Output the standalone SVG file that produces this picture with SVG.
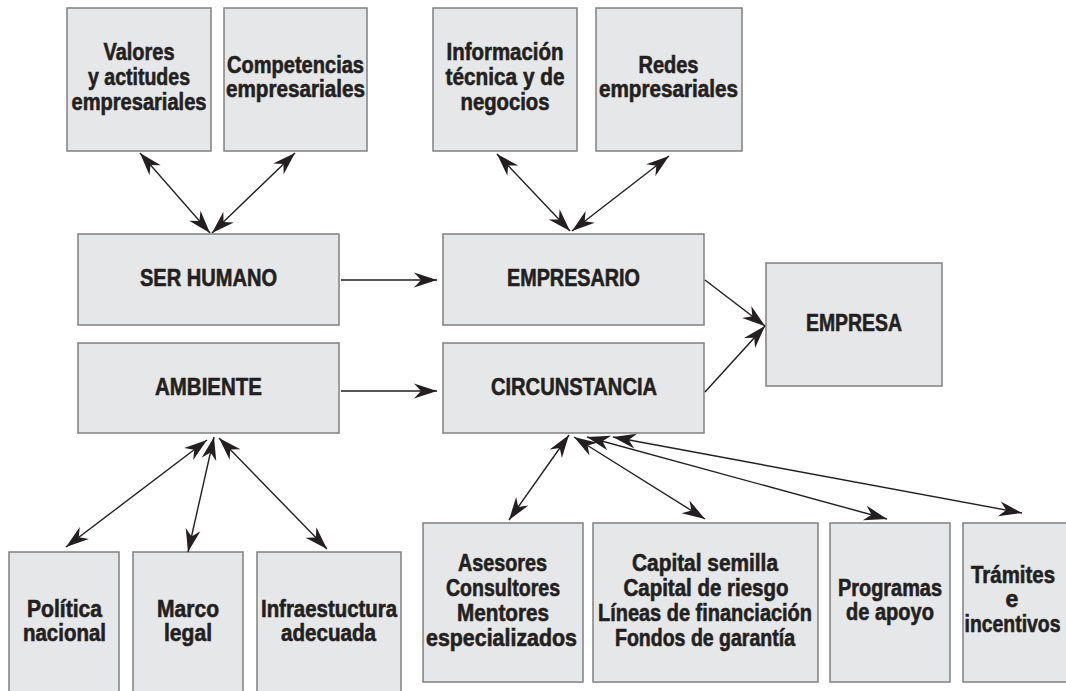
<svg xmlns="http://www.w3.org/2000/svg" width="1066" height="691" viewBox="0 0 1066 691">
<style>
.box{fill:#e6e7e8;stroke:#808080;stroke-width:1.5}
.t{font-family:"Liberation Sans",Arial,sans-serif;font-weight:bold;font-size:23px;fill:#231f20;stroke:#231f20;stroke-width:0.6;text-anchor:middle}
.m{font-size:24.5px}
.c{fill:none;stroke:#231f20;stroke-width:1.4}
</style>
<defs>
<marker id="ah" viewBox="-24 -9 24 18" refX="0" refY="0" markerWidth="24" markerHeight="18" markerUnits="userSpaceOnUse" orient="auto-start-reverse">
<path d="M0,0 L-23,-7.5 L-16,0 L-23,7.5 Z" fill="#231f20"/>
</marker>
</defs>
<rect width="1066" height="691" fill="#ffffff"/>

<g id="valores"><rect class="box" x="67" y="8" width="144" height="143"/>
<text class="t" x="139" y="60" textLength="71" lengthAdjust="spacingAndGlyphs">Valores</text>
<text class="t" x="139" y="85" textLength="102" lengthAdjust="spacingAndGlyphs">y actitudes</text>
<text class="t" x="139" y="110" textLength="135" lengthAdjust="spacingAndGlyphs">empresariales</text></g>

<g id="competencias"><rect class="box" x="224" y="8" width="143" height="143"/>
<text class="t" x="295.5" y="73" textLength="137" lengthAdjust="spacingAndGlyphs">Competencias</text>
<text class="t" x="295.5" y="97" textLength="139" lengthAdjust="spacingAndGlyphs">empresariales</text></g>

<g id="informacion"><rect class="box" x="433" y="8" width="144" height="143"/>
<text class="t" x="505" y="60" textLength="117" lengthAdjust="spacingAndGlyphs">Información</text>
<text class="t" x="505" y="85" textLength="119" lengthAdjust="spacingAndGlyphs">técnica y de</text>
<text class="t" x="505" y="110" textLength="89" lengthAdjust="spacingAndGlyphs">negocios</text></g>

<g id="redes"><rect class="box" x="596" y="8" width="146" height="143"/>
<text class="t" x="668.5" y="73" textLength="60" lengthAdjust="spacingAndGlyphs">Redes</text>
<text class="t" x="668.5" y="97" textLength="139" lengthAdjust="spacingAndGlyphs">empresariales</text></g>

<g id="ser-humano"><rect class="box" x="78" y="234" width="261" height="91"/>
<text class="t m" x="208.5" y="286" textLength="137" lengthAdjust="spacingAndGlyphs">SER HUMANO</text></g>

<g id="ambiente"><rect class="box" x="78" y="343" width="261" height="90"/>
<text class="t m" x="208.5" y="395" textLength="107" lengthAdjust="spacingAndGlyphs">AMBIENTE</text></g>

<g id="empresario"><rect class="box" x="443" y="234" width="261" height="91"/>
<text class="t m" x="573.5" y="286" textLength="133" lengthAdjust="spacingAndGlyphs">EMPRESARIO</text></g>

<g id="circunstancia"><rect class="box" x="443" y="343" width="261" height="90"/>
<text class="t m" x="574" y="395" textLength="166" lengthAdjust="spacingAndGlyphs">CIRCUNSTANCIA</text></g>

<g id="empresa"><rect class="box" x="766" y="263" width="176" height="123"/>
<text class="t m" x="854" y="331" textLength="96" lengthAdjust="spacingAndGlyphs">EMPRESA</text></g>

<g id="politica"><rect class="box" x="9" y="552" width="110" height="150"/>
<text class="t" x="64.5" y="617" textLength="75" lengthAdjust="spacingAndGlyphs">Política</text>
<text class="t" x="64.5" y="641" textLength="83" lengthAdjust="spacingAndGlyphs">nacional</text></g>

<g id="marco"><rect class="box" x="133" y="552" width="110" height="150"/>
<text class="t" x="188" y="617" textLength="62" lengthAdjust="spacingAndGlyphs">Marco</text>
<text class="t" x="188" y="641" textLength="48" lengthAdjust="spacingAndGlyphs">legal</text></g>

<g id="infraestructura"><rect class="box" x="257" y="552" width="144" height="150"/>
<text class="t" x="329" y="617" textLength="136" lengthAdjust="spacingAndGlyphs">Infraestuctura</text>
<text class="t" x="328.5" y="641" textLength="95" lengthAdjust="spacingAndGlyphs">adecuada</text></g>

<g id="asesores"><rect class="box" x="423" y="523" width="160" height="159"/>
<text class="t" x="502.5" y="571" textLength="89" lengthAdjust="spacingAndGlyphs">Asesores</text>
<text class="t" x="503" y="596" textLength="114" lengthAdjust="spacingAndGlyphs">Consultores</text>
<text class="t" x="503" y="621" textLength="92" lengthAdjust="spacingAndGlyphs">Mentores</text>
<text class="t" x="501.5" y="646" textLength="151" lengthAdjust="spacingAndGlyphs">especializados</text></g>

<g id="capital"><rect class="box" x="593" y="523" width="225" height="159"/>
<text class="t" x="705" y="571" textLength="146" lengthAdjust="spacingAndGlyphs">Capital semilla</text>
<text class="t" x="706" y="596" textLength="165" lengthAdjust="spacingAndGlyphs">Capital de riesgo</text>
<text class="t" x="705" y="621" textLength="214" lengthAdjust="spacingAndGlyphs">Líneas de financiación</text>
<text class="t" x="705" y="646" textLength="180" lengthAdjust="spacingAndGlyphs">Fondos de garantía</text></g>

<g id="programas"><rect class="box" x="830" y="523" width="120" height="159"/>
<text class="t" x="890" y="596" textLength="104" lengthAdjust="spacingAndGlyphs">Programas</text>
<text class="t" x="890" y="620" textLength="88" lengthAdjust="spacingAndGlyphs">de apoyo</text></g>

<g id="tramites"><rect class="box" x="963" y="523" width="120" height="159"/>
<text class="t" x="1013" y="583" textLength="84" lengthAdjust="spacingAndGlyphs">Trámites</text>
<text class="t" x="1012" y="607">e</text>
<text class="t" x="1012.5" y="632" textLength="96" lengthAdjust="spacingAndGlyphs">incentivos</text></g>

<g id="connectors">
<line class="c" x1="140" y1="153" x2="210" y2="233" marker-start="url(#ah)" marker-end="url(#ah)"/>
<line class="c" x1="295" y1="153" x2="212" y2="233" marker-start="url(#ah)" marker-end="url(#ah)"/>
<line class="c" x1="497" y1="154" x2="570" y2="231" marker-start="url(#ah)" marker-end="url(#ah)"/>
<line class="c" x1="669" y1="156" x2="572" y2="231" marker-start="url(#ah)" marker-end="url(#ah)"/>
<line class="c" x1="341" y1="280" x2="437" y2="280" marker-end="url(#ah)"/>
<line class="c" x1="341" y1="391" x2="437" y2="391" marker-end="url(#ah)"/>
<line class="c" x1="705" y1="280" x2="765" y2="326" marker-end="url(#ah)"/>
<line class="c" x1="705" y1="392" x2="765" y2="326" marker-end="url(#ah)"/>
<line class="c" x1="207" y1="440" x2="66" y2="547" marker-start="url(#ah)" marker-end="url(#ah)"/>
<line class="c" x1="214" y1="437" x2="188" y2="552" marker-start="url(#ah)" marker-end="url(#ah)"/>
<line class="c" x1="219" y1="438" x2="327" y2="549" marker-start="url(#ah)" marker-end="url(#ah)"/>
<line class="c" x1="569" y1="435" x2="509" y2="520" marker-start="url(#ah)" marker-end="url(#ah)"/>
<line class="c" x1="574" y1="437" x2="705" y2="519" marker-start="url(#ah)" marker-end="url(#ah)"/>
<line class="c" x1="587" y1="437" x2="887" y2="519" marker-start="url(#ah)" marker-end="url(#ah)"/>
<line class="c" x1="613" y1="437" x2="1022" y2="513" marker-start="url(#ah)" marker-end="url(#ah)"/>
</g>
</svg>
